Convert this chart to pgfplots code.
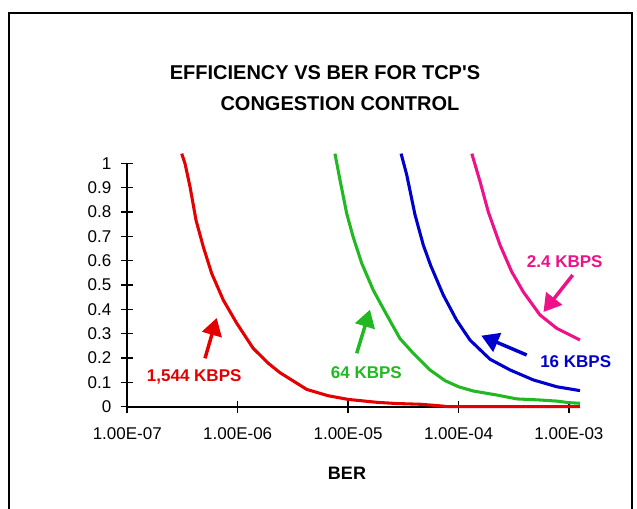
\documentclass[border=0pt]{standalone}
\usepackage{pgfplots}
\pgfplotsset{compat=1.18}
\usepackage{fontspec}
\setmainfont{Liberation Sans}
\usetikzlibrary{arrows.meta}
\definecolor{cred}{RGB}{228,0,0}
\definecolor{cgreen}{RGB}{34,184,34}
\definecolor{cblue}{RGB}{0,0,204}
\definecolor{cpink}{RGB}{238,17,136}
\pgfplotstableread{
x y
3.11e-7 1.04
3.33e-7 1.00
3.70e-7 0.904
4.19e-7 0.767
4.88e-7 0.657
5.81e-7 0.548
7.41e-7 0.438
9.80e-7 0.343
1.38e-6 0.240
1.90e-6 0.178
2.41e-6 0.140
4.22e-6 0.071
6.60e-6 0.045
1.00e-5 0.030
1.82e-5 0.018
2.75e-5 0.013
4.48e-5 0.010
5.50e-5 0.007
7.00e-5 0.003
8.00e-5 0.0
1.259e-3 0.0
}\redt
\pgfplotstableread{
x y
7.60e-6 1.04
8.45e-6 0.931
9.70e-6 0.795
1.11e-5 0.698
1.33e-5 0.589
1.69e-5 0.479
2.24e-5 0.377
2.95e-5 0.280
3.90e-5 0.219
5.52e-5 0.151
7.55e-5 0.107
1.00e-4 0.082
1.36e-4 0.0645
2.22e-4 0.048
3.37e-4 0.032
5.47e-4 0.0275
7.76e-4 0.023
1.00e-3 0.0165
1.259e-3 0.014
}\greent
\pgfplotstableread{
x y
3.02e-5 1.04
3.40e-5 0.952
4.04e-5 0.788
4.80e-5 0.664
5.60e-5 0.580
6.56e-5 0.507
7.28e-5 0.459
9.60e-5 0.356
1.27e-4 0.274
1.93e-4 0.195
2.93e-4 0.151
4.76e-4 0.110
7.76e-4 0.082
1.259e-3 0.066
}\bluet
\pgfplotstableread{
x y
1.32e-4 1.04
1.57e-4 0.924
1.86e-4 0.801
2.38e-4 0.664
3.03e-4 0.555
3.86e-4 0.472
5.47e-4 0.377
7.76e-4 0.322
1.259e-3 0.274
}\pinkt
\begin{document}
\begin{tikzpicture}
\begin{scope}[x=0.75pt,y=-0.75pt]
\useasboundingbox (0,0) rectangle (637,509);
\draw[line width=0.9pt] (9,509) -- (9,13) -- (632,13) -- (632,509);
\node[font=\bfseries\fontsize{15}{18}\selectfont] at (325,73) {EFFICIENCY VS BER FOR TCP\textquotesingle S};
\node[font=\bfseries\fontsize{15}{18}\selectfont] at (340,104) {CONGESTION CONTROL};
\end{scope}
\begin{axis}[
  at={(95.475pt,-305.025pt)}, anchor=south west,
  scale only axis, width=339.5pt, height=182.5pt,
  xmode=log, xmin=1e-7, xmax=1.259e-3, ymin=0, ymax=1,
  axis lines=left, axis line style={-, line width=1.4pt},
  clip=false,
  tick align=center, major tick length=9pt,
  tick style={line width=1.2pt, black},
  xtick={1e-7,1e-6,1e-5,1e-4,1e-3},
  xticklabels={1.00E-07,1.00E-06,1.00E-05,1.00E-04,1.00E-03},
  ytick={0,0.1,0.2,0.3,0.4,0.5,0.6,0.7,0.8,0.9,1},
  yticklabels={0,0.1,0.2,0.3,0.4,0.5,0.6,0.7,0.8,0.9,1},
  xminorticks=false,
  ticklabel style={font=\fontsize{12.75}{14}\selectfont},
  xticklabel style={yshift=-8pt},
  yticklabel style={xshift=-4pt},
  /pgf/number format/assume math mode=true,
]
\addplot[cpink, line width=2.3pt, no markers, line join=round] table[x=x,y=y] {\pinkt};
\addplot[cblue, line width=2.3pt, no markers, line join=round] table[x=x,y=y] {\bluet};
\addplot[cgreen, line width=2.3pt, no markers, line join=round] table[x=x,y=y] {\greent};
\addplot[cred, line width=2.3pt, no markers, line join=round] table[x=x,y=y] {\redt};
\end{axis}
\begin{scope}[x=0.75pt,y=-0.75pt]
\node[font=\bfseries\fontsize{13.5}{16}\selectfont] at (347,473) {BER};
\begin{scope}[font=\bfseries\fontsize{12.75}{15}\selectfont]
\node[cred, anchor=base west, inner sep=0] at (146.7,381.7) {1,544 KBPS};
\node[cgreen, anchor=base west, inner sep=0] at (330.7,379) {64 KBPS};
\node[cblue, anchor=base west, inner sep=0] at (540,367.7) {16 KBPS};
\node[cpink, anchor=base west, inner sep=0] at (526.7,268) {2.4 KBPS};
\end{scope}
\begin{scope}[line width=2.6pt, arrows={-Triangle[length=13pt,width=15pt]}]
\draw[cred] (205,358.3) -- (216.7,318);
\draw[cgreen] (356.7,353.3) -- (370,309.7);
\draw[cblue] (526.7,355) -- (481.3,335.7);
\draw[cpink] (572.7,275) -- (543.5,312);
\end{scope}
\end{scope}
\end{tikzpicture}
\end{document}
